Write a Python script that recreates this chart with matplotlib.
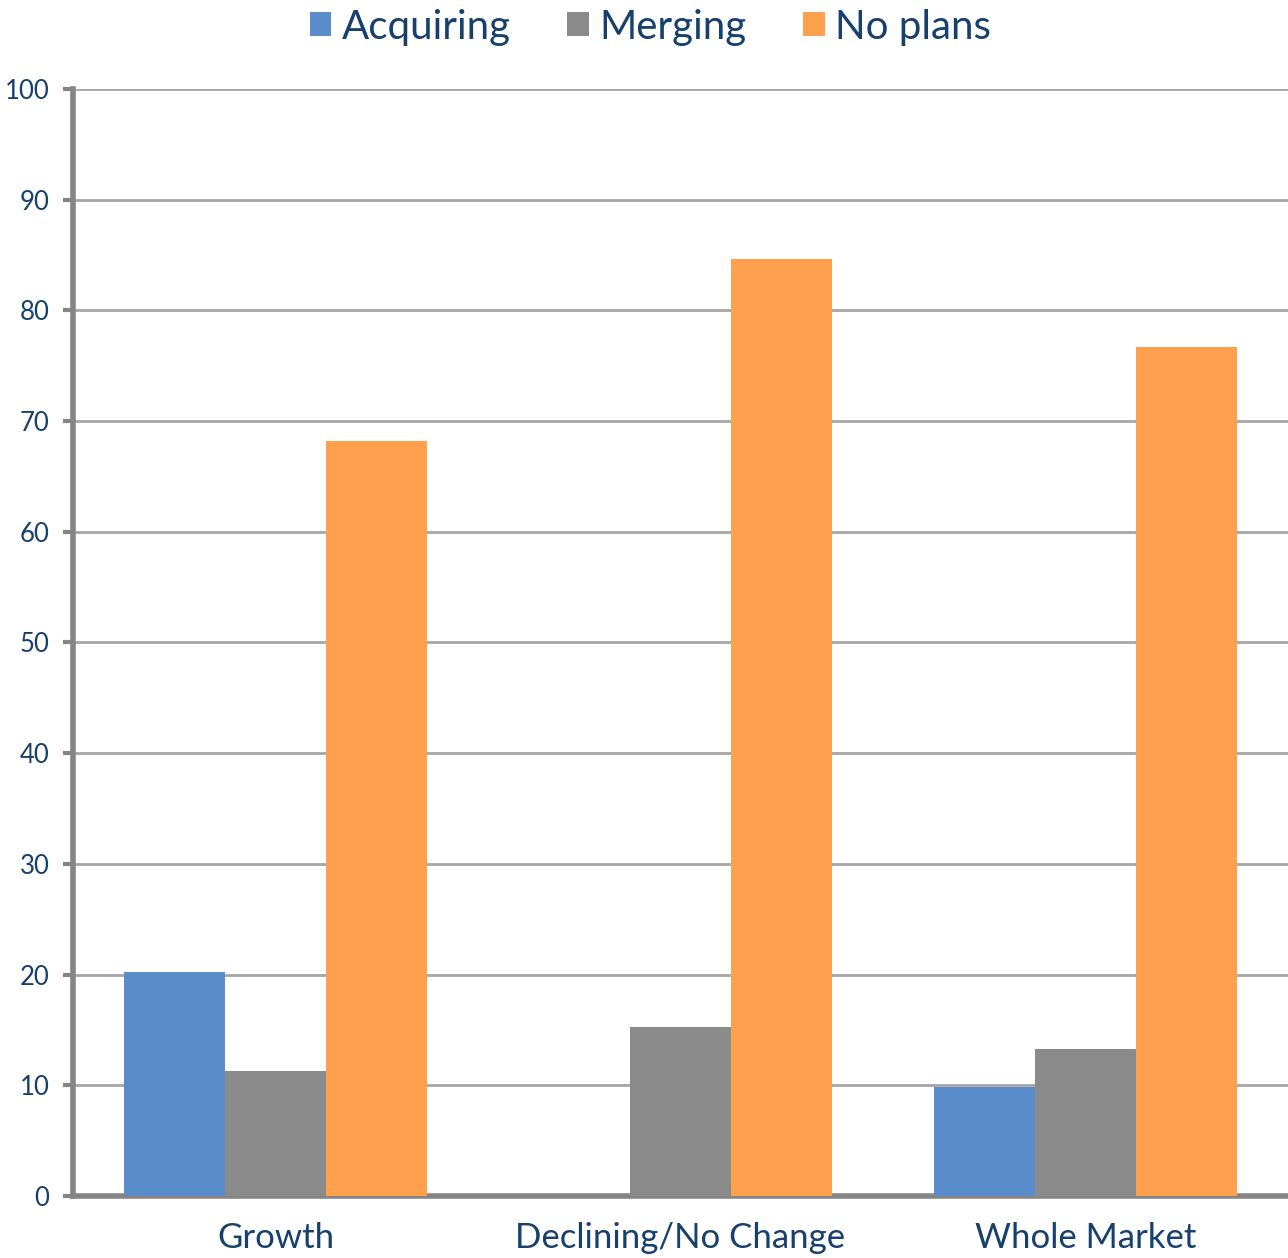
import matplotlib
matplotlib.use("Agg")
import matplotlib.pyplot as plt
import numpy as np
from matplotlib.patches import Patch

plt.rcParams['font.family'] = ['Lato', 'DejaVu Sans']

categories = ["Growth", "Declining/No Change", "Whole Market"]
series_names = ["Acquiring", "Merging", "No plans"]
acquiring = [20.2, 0.0, 9.8]
merging = [11.3, 15.3, 13.3]
no_plans = [68.2, 84.6, 76.7]
colors = ["#5A8BCB", "#8A8A8A", "#FFA04E"]
yticks = [0, 10, 20, 30, 40, 50, 60, 70, 80, 90, 100]

text_color = "#17406D"
axis_color = "#858585"
grid_color = "#A6A6A6"

fig = plt.figure(figsize=(12.88, 12.58), dpi=100)
ax = fig.add_axes([0.0567, 0.0493, 0.9433, 0.88])

x = np.arange(len(categories))
width = 0.25
for i, (vals, c) in enumerate(zip([acquiring, merging, no_plans], colors)):
    ax.bar(x + (i - 1) * width, vals, width, color=c, edgecolor="none",
           zorder=3)

ax.set_xlim(-0.5, 2.5)
ax.set_ylim(0, 100)
ax.set_yticks(yticks)
ax.set_yticklabels([str(t) for t in yticks])
ax.set_xticks(x)
ax.set_xticklabels(categories)

ax.yaxis.grid(True, color=grid_color, linewidth=2, zorder=0)
ax.set_axisbelow(True)

for s in ["top", "right"]:
    ax.spines[s].set_visible(False)
for s in ["left", "bottom"]:
    ax.spines[s].set_color(axis_color)
    ax.spines[s].set_linewidth(4)

ax.tick_params(axis="y", length=7, width=3, color=axis_color, direction="out",
               labelsize=18.5, labelcolor=text_color, pad=10)
ax.tick_params(axis="x", length=0, labelsize=25, labelcolor=text_color, pad=19)

handles = [Patch(facecolor=c, edgecolor="none") for c in colors]
fig.legend(handles, series_names, loc="upper center",
           bbox_to_anchor=(0.505, 1.022), ncol=3, frameon=False,
           fontsize=29, labelcolor=text_color, handlelength=0.54,
           handleheight=0.54, handletextpad=0.26, columnspacing=1.4)

fig.savefig("out.png", dpi=100)
